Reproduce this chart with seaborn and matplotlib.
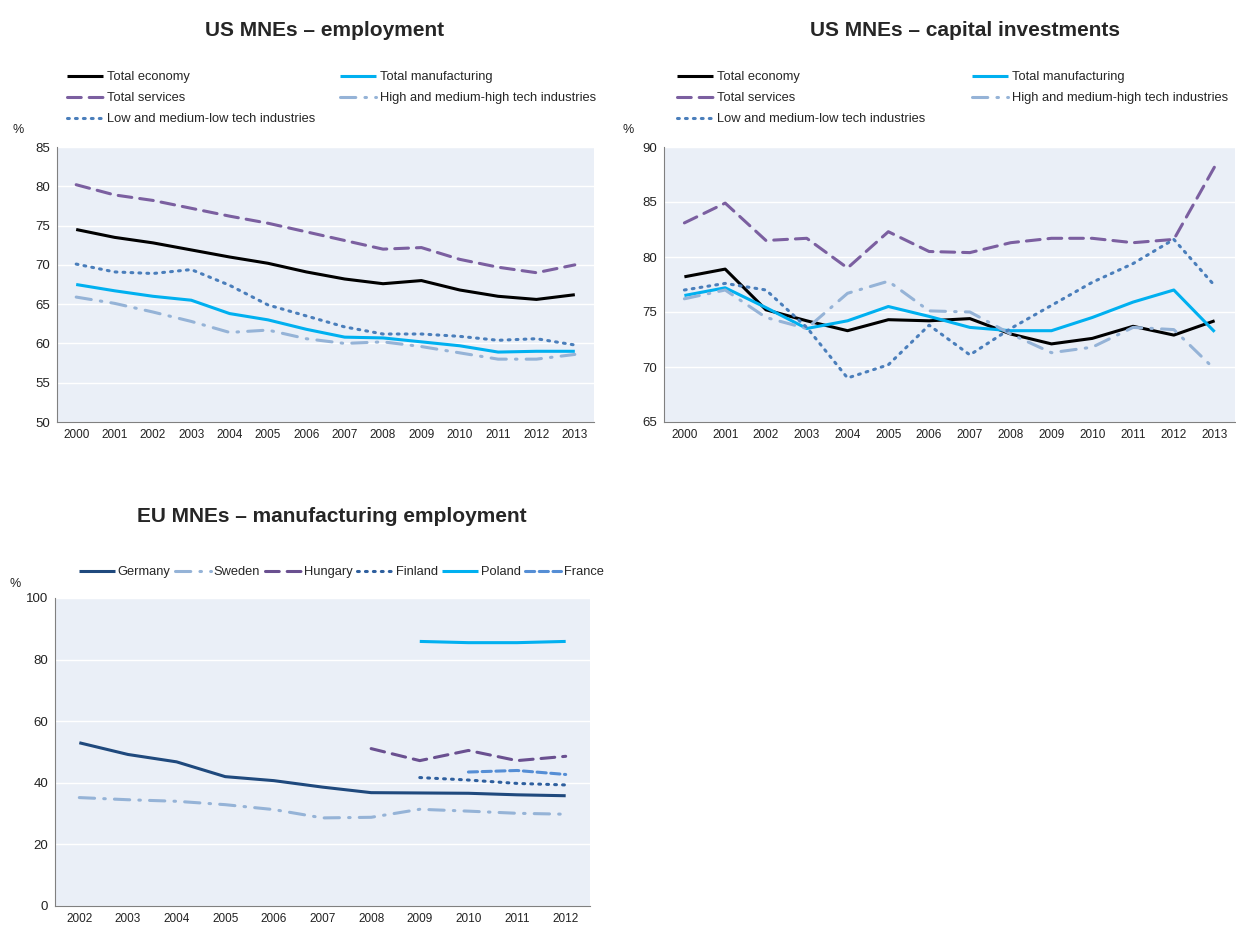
import numpy as np
import pandas as pd
import matplotlib
matplotlib.use("Agg")
import matplotlib.pyplot as plt
import seaborn as sns

# ── Data ───────────────────────────────────────────────────────────────────────
years_us = list(range(2000, 2014))

emp_total_economy = [74.5, 73.5, 72.8, 71.9, 71.0, 70.2, 69.1, 68.2, 67.6, 68.0, 66.8, 66.0, 65.6, 66.2]
emp_total_manuf = [67.5, 66.7, 66.0, 65.5, 63.8, 63.0, 61.8, 60.8, 60.7, 60.2, 59.7, 58.9, 59.0, 59.0]
emp_total_services = [80.2, 78.9, 78.2, 77.2, 76.2, 75.3, 74.2, 73.1, 72.0, 72.2, 70.7, 69.7, 69.0, 70.0]
emp_high_tech = [65.9, 65.1, 64.0, 62.8, 61.4, 61.7, 60.6, 60.0, 60.2, 59.6, 58.8, 58.0, 58.0, 58.6]
emp_low_tech = [70.1, 69.1, 68.9, 69.4, 67.4, 64.9, 63.5, 62.1, 61.2, 61.2, 60.9, 60.4, 60.6, 59.8]

cap_total_economy = [78.2, 78.9, 75.2, 74.2, 73.3, 74.3, 74.2, 74.4, 73.0, 72.1, 72.6, 73.7, 72.9, 74.2]
cap_total_manuf = [76.5, 77.2, 75.4, 73.5, 74.2, 75.5, 74.6, 73.6, 73.3, 73.3, 74.5, 75.9, 77.0, 73.2]
cap_total_services = [83.1, 84.9, 81.5, 81.7, 79.0, 82.3, 80.5, 80.4, 81.3, 81.7, 81.7, 81.3, 81.6, 88.2]
cap_high_tech = [76.2, 77.0, 74.5, 73.5, 76.7, 77.8, 75.1, 75.0, 73.0, 71.3, 71.8, 73.6, 73.4, 69.8]
cap_low_tech = [77.0, 77.6, 77.0, 73.6, 69.0, 70.2, 73.8, 71.1, 73.5, 75.6, 77.7, 79.4, 81.6, 77.4]

us_series = ["Total economy", "Total manufacturing", "Total services",
             "High and medium-high tech industries", "Low and medium-low tech industries"]

years_eu = list(range(2002, 2013))
eu_germany = [53.0, 49.2, 46.8, 42.0, 40.7, 38.6, 36.8, 36.7, 36.6, 36.1, 35.8]
eu_sweden = [35.2, 34.5, 34.0, 32.9, 31.3, 28.6, 28.8, 31.4, 30.8, 30.1, 29.8]
eu_hungary = [None, None, None, None, None, None, 51.1, 47.2, 50.5, 47.2, 48.6]
eu_finland = [None, None, None, None, None, None, None, 41.7, 40.9, 39.8, 39.3]
eu_poland = [None, None, None, None, None, None, None, 85.9, 85.5, 85.5, 85.9]
eu_france = [None, None, None, None, None, None, None, None, 43.5, 44.0, 42.7]

eu_series = ["Germany", "Sweden", "Hungary", "Finland", "Poland", "France"]

# ── Styles ─────────────────────────────────────────────────────────────────────
us_styles = {
    "Total economy": dict(color="#000000", ls="-"),
    "Total manufacturing": dict(color="#00B0F0", ls="-"),
    "Total services": dict(color="#7B5FA0", ls=(0, (4.5, 2.6))),
    "High and medium-high tech industries": dict(color="#95B3D7", ls=(0, (5, 3, 0.5, 3))),
    "Low and medium-low tech industries": dict(color="#4A7EBB", ls=(0, (0.6, 2.0))),
}
eu_styles = {
    "Germany": dict(color="#1F497D", ls="-"),
    "Sweden": dict(color="#95B3D7", ls=(0, (5, 3, 0.5, 3))),
    "Hungary": dict(color="#6A5090", ls=(0, (4.5, 2.6))),
    "Finland": dict(color="#2E5F9E", ls=(0, (0.6, 2.0))),
    "Poland": dict(color="#00B0F0", ls="-"),
    "France": dict(color="#558ED5", ls=(0, (3, 1.5))),
}

sns.set_style("white", rc={"axes.facecolor": "#EAEFF7"})
plt.rcParams["font.family"] = ["Liberation Sans", "DejaVu Sans"]

W, H = 1236, 926
fig = plt.figure(figsize=(W / 100, H / 100), dpi=100)


def px_axes(left, top, right, bottom):
    return fig.add_axes([left / W, 1 - bottom / H, (right - left) / W, (bottom - top) / H])


def draw_lines(ax, years, data, names, styles):
    for name, vals in zip(names, data):
        df = pd.DataFrame({"year": years, "value": vals}).dropna()
        st = styles[name]
        sns.lineplot(data=df, x="year", y="value", ax=ax, color=st["color"],
                     linestyle=st["ls"], linewidth=2.2, label=name,
                     dash_capstyle="round", solid_capstyle="butt")
    if ax.get_legend() is not None:
        ax.get_legend().remove()


def style_axes(ax, years, ylim, yticks):
    ax.set_xlim(years[0] - 0.5, years[-1] + 0.5)
    ax.set_xticks(years)
    ax.set_xticklabels([str(y) for y in years])
    ax.set_xticks(np.arange(years[0] - 0.5, years[-1] + 1.0, 1.0), minor=True)
    ax.tick_params(axis="x", which="major", length=0, pad=5, labelsize=8.5, labelcolor="#222222")
    ax.tick_params(axis="x", which="minor", length=3, width=0.8, color="#808080", direction="out")
    ax.set_ylim(*ylim)
    ax.set_yticks(yticks)
    ax.tick_params(axis="y", length=3, width=0.8, color="#808080", direction="out",
                   labelsize=9.5, labelcolor="#222222", pad=2)
    ax.yaxis.grid(True, color="white", lw=1.0)
    ax.xaxis.grid(False)
    ax.set_axisbelow(True)
    for s in ["top", "right"]:
        ax.spines[s].set_visible(False)
    for s in ["left", "bottom"]:
        ax.spines[s].set_color("#808080")
        ax.spines[s].set_linewidth(0.8)
    ax.set_xlabel("")
    ax.set_ylabel("")


# ── Panel 1: US MNEs employment ────────────────────────────────────────────────
ax1 = px_axes(57, 147, 594, 422)
draw_lines(ax1, years_us,
           [emp_total_economy, emp_total_manuf, emp_total_services, emp_high_tech, emp_low_tech],
           us_series, us_styles)
style_axes(ax1, years_us, (50, 85), range(50, 90, 5))

# ── Panel 2: US MNEs capital investments ───────────────────────────────────────
ax2 = px_axes(664, 147, 1235, 422)
draw_lines(ax2, years_us,
           [cap_total_economy, cap_total_manuf, cap_total_services, cap_high_tech, cap_low_tech],
           us_series, us_styles)
style_axes(ax2, years_us, (65, 90), range(65, 95, 5))

# ── Panel 3: EU MNEs manufacturing employment ──────────────────────────────────
ax3 = px_axes(55, 598, 590, 906)
draw_lines(ax3, years_eu,
           [eu_germany, eu_sweden, eu_hungary, eu_finland, eu_poland, eu_france],
           eu_series, eu_styles)
style_axes(ax3, years_eu, (0, 100), range(0, 120, 20))

# ── Titles, unit labels ────────────────────────────────────────────────────────
title_kw = dict(fontsize=15, fontweight="bold", ha="center", va="center")
fig.text(325 / W, 1 - 30 / H, "US MNEs – employment", **title_kw)
fig.text(965 / W, 1 - 30 / H, "US MNEs – capital investments", **title_kw)
fig.text(332 / W, 1 - 517 / H, "EU MNEs – manufacturing employment", **title_kw)

unit_kw = dict(fontsize=9, ha="center", va="center", color="#222222")
fig.text(18 / W, 1 - 130 / H, "%", **unit_kw)
fig.text(628 / W, 1 - 130 / H, "%", **unit_kw)
fig.text(15 / W, 1 - 584 / H, "%", **unit_kw)

# ── Legends ────────────────────────────────────────────────────────────────────
def us_legend(ax, x_left, colspacing):
    handles, labels = ax.get_legend_handles_labels()
    order = [0, 2, 4, 1, 3]
    fig.legend([handles[i] for i in order], [labels[i] for i in order],
               loc="upper left", bbox_to_anchor=(x_left / W, 1 - 71 / H),
               ncol=2, frameon=False, fontsize=9.3, handlelength=2.8,
               handletextpad=0.3, columnspacing=colspacing, labelspacing=0.7,
               borderpad=0, borderaxespad=0)


us_legend(ax1, 67, 1.9)
us_legend(ax2, 677, 3.6)

h3, l3 = ax3.get_legend_handles_labels()
fig.legend(h3, l3, loc="upper left", bbox_to_anchor=(79 / W, 1 - 566 / H),
           ncol=6, frameon=False, fontsize=9.3, handlelength=2.8,
           handletextpad=0.2, columnspacing=0.35, borderpad=0, borderaxespad=0)

fig.savefig("out.png", dpi=100)
plt.close(fig)
